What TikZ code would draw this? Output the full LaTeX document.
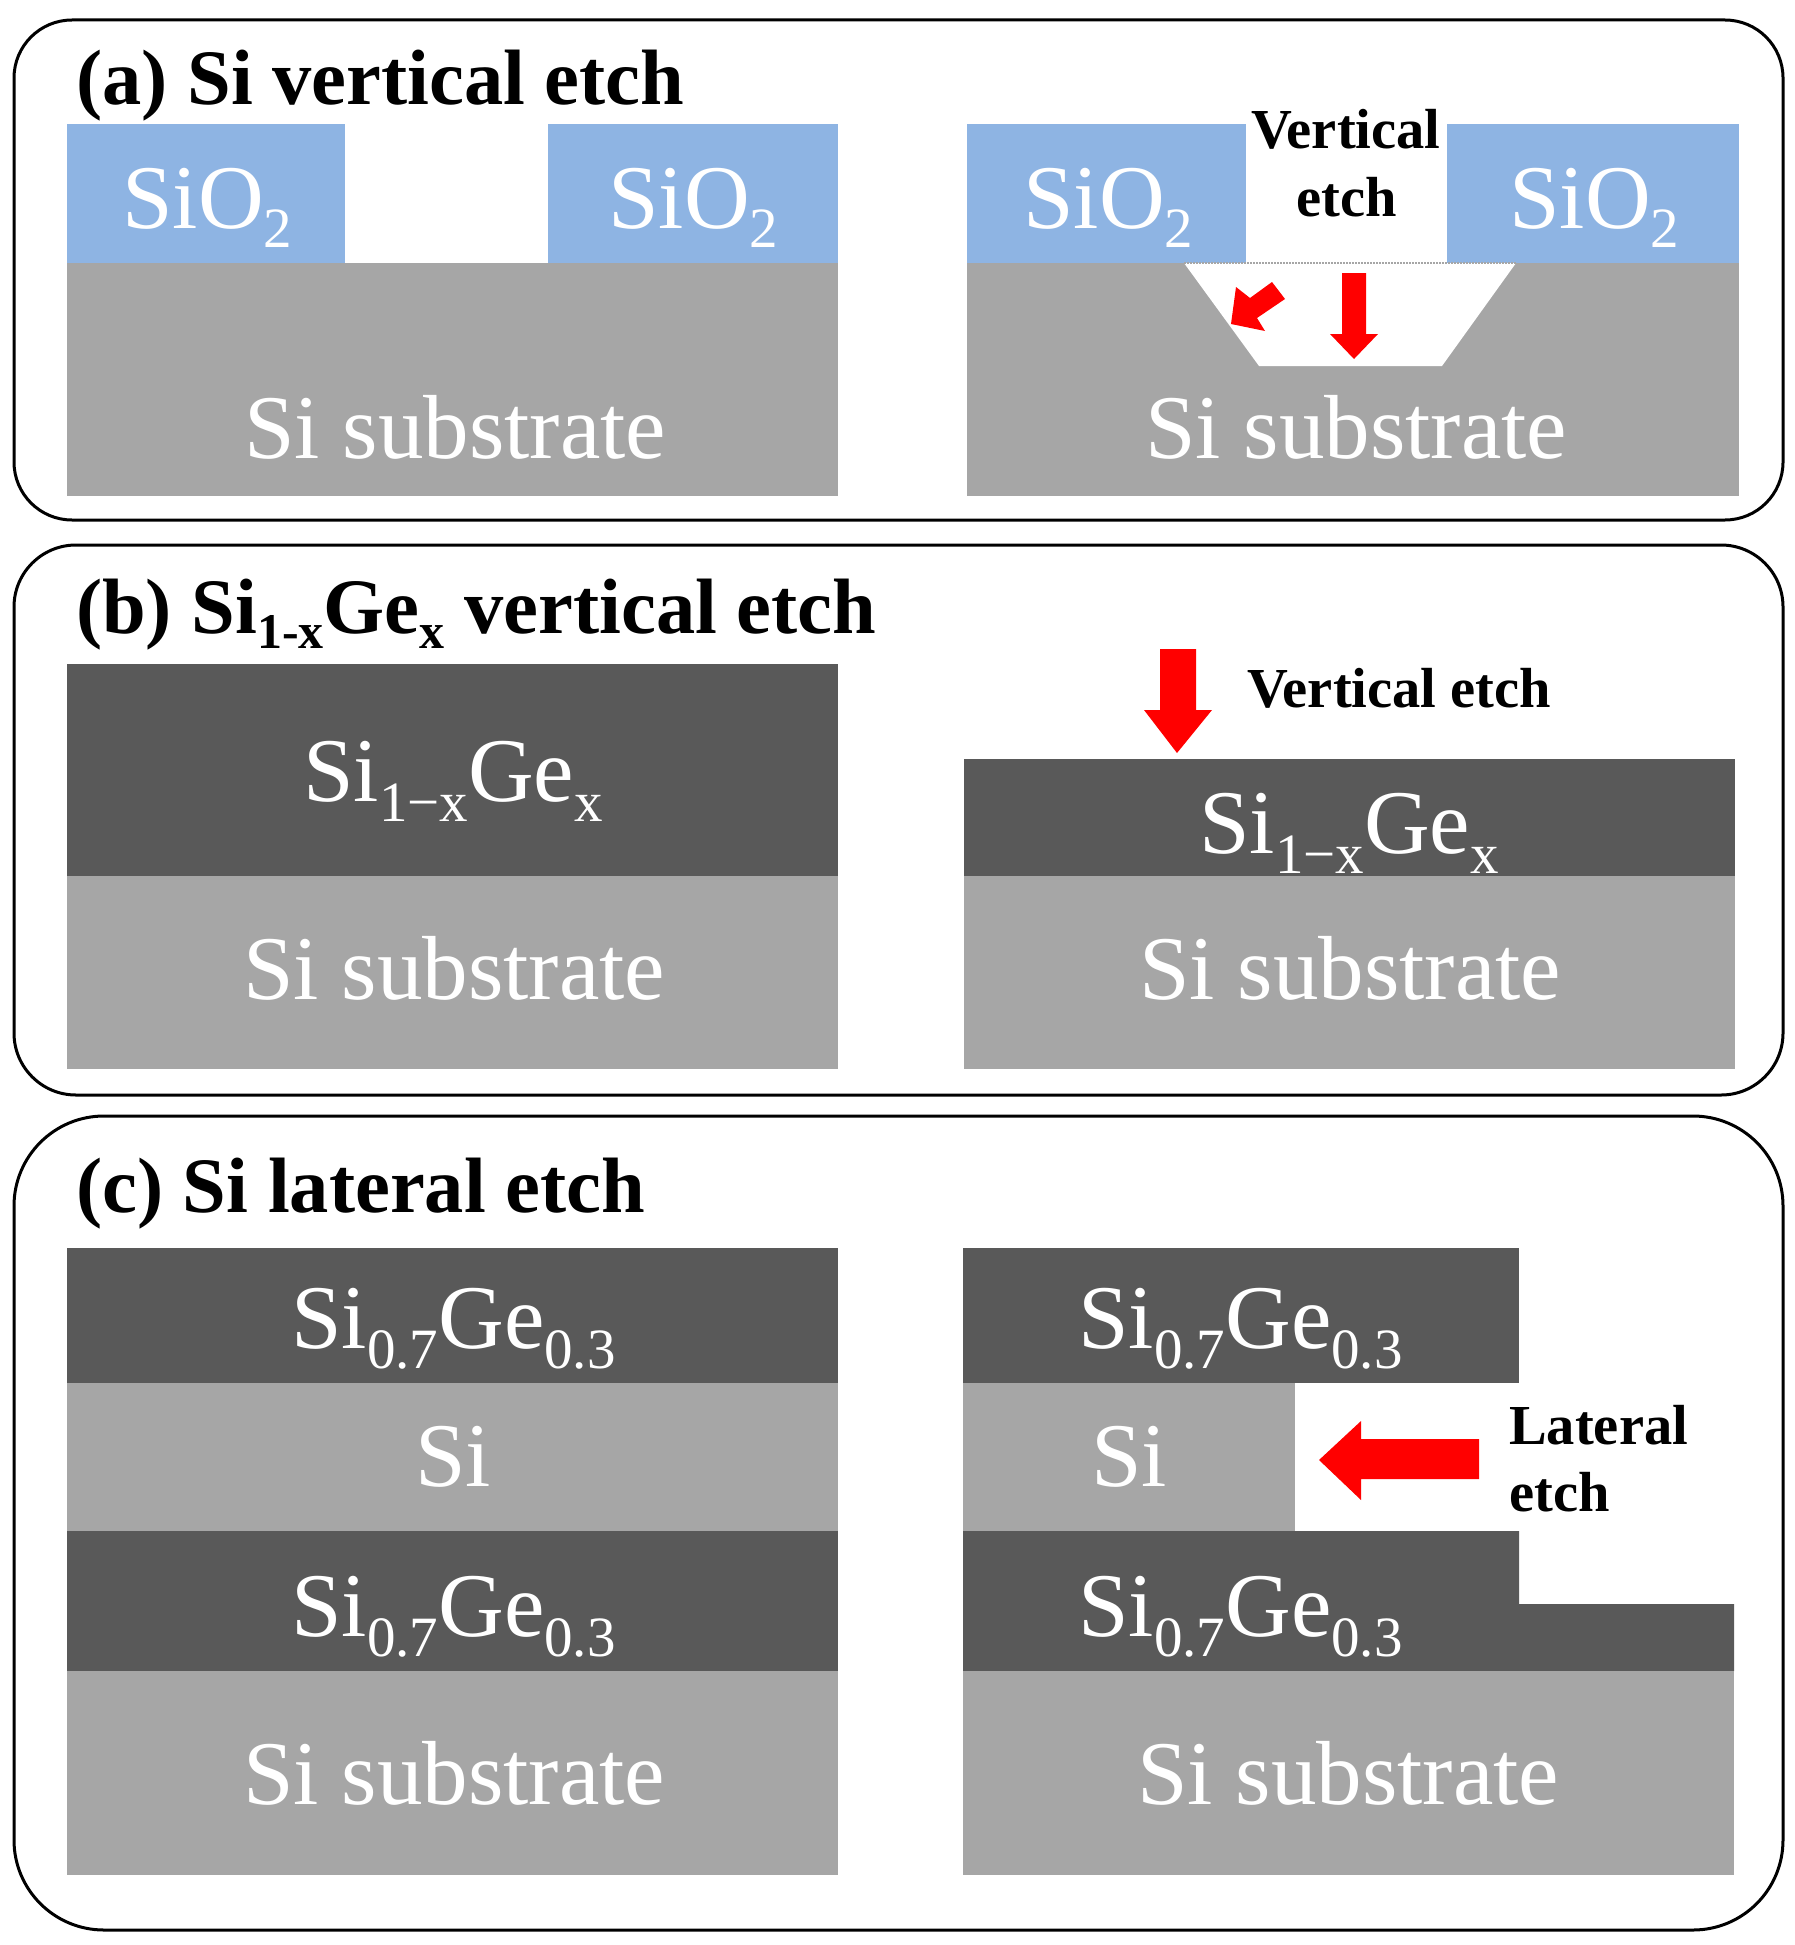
\documentclass[tikz,border=0pt]{standalone}
\usepackage{fontspec}
\setmainfont{Liberation Serif}
\definecolor{oxide}{HTML}{8EB4E3}
\definecolor{silicon}{HTML}{A6A6A6}
\definecolor{sige}{HTML}{595959}
\newcommand{\lowsub}[1]{\raisebox{-20pt}{\fontsize{57}{57}\selectfont #1}}
\newcommand{\boldsub}[1]{\raisebox{-15pt}{\fontsize{50}{50}\selectfont #1}}
\tikzset{
  x=1pt,y=-1pt,
  panel/.style={draw=black,line width=3pt,fill=white},
  oxidefill/.style={fill=oxide},
  sifill/.style={fill=silicon},
  gefill/.style={fill=sige},
  etcharrow/.style={fill=red},
  lab/.style={anchor=base west,inner sep=0pt,text=white,font=\fontsize{91}{91}\selectfont},
  heading/.style={anchor=base west,inner sep=0pt,text=black,font=\fontsize{78.5}{78.5}\selectfont\bfseries},
  note/.style={anchor=base west,inner sep=0pt,text=black,font=\fontsize{56.5}{56.5}\selectfont\bfseries},
}
\begin{document}
\begin{tikzpicture}
\useasboundingbox (0,0) rectangle (1795,1945);
\fill[white] (0,0) rectangle (1795,1945);
% panels
\draw[panel,rounded corners=58pt] (14,20) rectangle (1783,520);
\draw[panel,rounded corners=62pt] (14,545) rectangle (1783,1095);
\draw[panel,rounded corners=90pt] (14,1116) rectangle (1783,1930);
% (a) left
\fill[oxidefill] (67,124) rectangle (345,263);
\fill[oxidefill] (548,124) rectangle (838,263);
\fill[sifill] (67,263) rectangle (838,496);
% (a) right
\fill[oxidefill] (967,124) rectangle (1246,263);
\fill[oxidefill] (1447,124) rectangle (1739,263);
\fill[sifill] (967,263) rectangle (1739,496);
\fill[white] (1184,263) -- (1516,263) -- (1442,366) -- (1259,366) -- cycle;
\draw[gray!70,line width=2pt,dash pattern=on 1.5pt off 1.5pt] (1184,263) -- (1516,263);
\fill[etcharrow] (1342,273) -- (1366,273) -- (1366,334) -- (1378,334) -- (1354,359) -- (1330,334) -- (1342,334) -- cycle;
\fill[etcharrow] (1231,324) -- (1236,287) -- (1250,298) -- (1272,282) -- (1285,299) -- (1257,318) -- (1265,331) -- cycle;
% (b) left
\fill[gefill] (67,664) rectangle (838,876);
\fill[sifill] (67,876) rectangle (838,1069);
% (b) right
\fill[gefill] (964,759) rectangle (1735,876);
\fill[sifill] (964,876) rectangle (1735,1069);
\fill[etcharrow] (1160,649) -- (1196,649) -- (1196,710) -- (1212,710) -- (1177,753) -- (1144,710) -- (1160,710) -- cycle;
% (c) left
\fill[gefill] (67,1248) rectangle (838,1383);
\fill[sifill] (67,1383) rectangle (838,1531);
\fill[gefill] (67,1531) rectangle (838,1671);
\fill[sifill] (67,1671) rectangle (838,1875);
% (c) right
\fill[gefill] (963,1248) rectangle (1519,1383);
\fill[sifill] (963,1383) rectangle (1295,1531);
\fill[gefill] (963,1531) -- (1519,1531) -- (1519,1604) -- (1734,1604) -- (1734,1671) -- (963,1671) -- cycle;
\fill[sifill] (963,1671) rectangle (1734,1875);
\fill[etcharrow] (1319,1460) -- (1361,1421) -- (1361,1439) -- (1479,1439) -- (1479,1479) -- (1361,1479) -- (1361,1500) -- cycle;
% headings
\node[heading] (ta) at (76,105) {(a) Si vertical etch};
\node[heading] (tb) at (76,633) {(b) Si\boldsub{1-x}Ge\boldsub{x} vertical etch};
\node[heading] (tc) at (76,1212) {(c) Si lateral etch};
% (a) labels
\node[lab] (a1) at (122,228) {SiO\lowsub{2}};
\node[lab] (a2) at (608,228) {SiO\lowsub{2}};
\node[lab] (a3) at (244,458) {Si substrate};
\node[lab] (a4) at (1023,228) {SiO\lowsub{2}};
\node[lab] (a5) at (1509,228) {SiO\lowsub{2}};
\node[lab] (a6) at (1145,458) {Si substrate};
\node[note] (a7) at (1251,149) {Vertical};
\node[note] (a8) at (1296,216) {etch};
% (b) labels
\node[lab] (b1) at (303,801) {Si\lowsub{1−x}Ge\lowsub{x}};
\node[lab] (b2) at (243,999) {Si substrate};
\node[lab] (b3) at (1199,853) {Si\lowsub{1−x}Ge\lowsub{x}};
\node[lab] (b4) at (1139,999) {Si substrate};
\node[note] (b5) at (1247,707) {Vertical etch};
% (c) labels
\node[lab] (c1) at (291,1348) {Si\lowsub{0.7}Ge\lowsub{0.3}};
\node[lab] (c2) at (415,1486) {Si};
\node[lab] (c3) at (291,1636) {Si\lowsub{0.7}Ge\lowsub{0.3}};
\node[lab] (c4) at (243,1804) {Si substrate};
\node[lab] (c5) at (1078,1348) {Si\lowsub{0.7}Ge\lowsub{0.3}};
\node[lab] (c6) at (1091,1486) {Si};
\node[lab] (c7) at (1078,1636) {Si\lowsub{0.7}Ge\lowsub{0.3}};
\node[lab] (c8) at (1137,1804) {Si substrate};
\node[note] (c9) at (1509,1444) {Lateral};
\node[note] (c10) at (1509,1511) {etch};
\end{tikzpicture}
\end{document}
